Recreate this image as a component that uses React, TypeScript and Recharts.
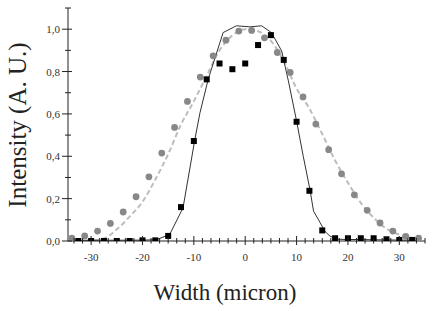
import { ComposedChart, Line, Scatter, XAxis, YAxis, Label } from "recharts"

// gray circles (measured) and their dashed fit
const circleX = [-33.75, -31.25, -28.75, -26.25, -23.75, -21.25, -18.75, -16.25, -13.75, -11.25, -8.75, -6.25, -3.75, -1.25,
    1.25, 3.75, 6.25, 8.75, 11.25, 13.75, 16.25, 18.75, 21.25, 23.75, 26.25, 28.75, 31.25, 33.75]
const circleY = [0.013, 0.024, 0.047, 0.083, 0.137, 0.209, 0.303, 0.415, 0.536, 0.659, 0.774, 0.874, 0.948, 0.991,
    0.994, 0.959, 0.89, 0.796, 0.68, 0.552, 0.431, 0.317, 0.218, 0.145, 0.085, 0.047, 0.022, 0.013]

const dashX = [-32.5, -30, -27.5, -25, -22.5, -20, -17.5, -15, -12.5, -10, -7.5, -5, -2.5, 0,
    2.5, 5, 7.5, 10, 12.5, 15, 17.5, 20, 22.5, 25, 27.5, 30, 32.5]
const dashY = [0.0, 0.002, 0.012, 0.055, 0.115, 0.185, 0.29, 0.41, 0.55, 0.66, 0.78, 0.9, 0.97, 1.0,
    0.99, 0.945, 0.85, 0.72, 0.625, 0.505, 0.38, 0.275, 0.18, 0.11, 0.058, 0.03, 0.014]

// black squares (measured) and their solid fit
const squareX = [-32.5, -30, -27.5, -25, -22.5, -20, -17.5, -15, -12.5, -10, -7.5, -5, -2.5, 0,
    2.5, 5, 7.5, 10, 12.5, 15, 17.5, 20, 22.5, 25, 27.5, 30, 32.5]
const squareY = [0.0, 0.0, 0.0, 0.0, 0.0, 0.003, 0.003, 0.024, 0.16, 0.472, 0.763, 0.838, 0.811, 0.838,
    0.925, 0.972, 0.855, 0.563, 0.237, 0.05, 0.013, 0.013, 0.013, 0.013, 0.008, 0.005, 0.005]

const solidX = [-34, -20, -17.3, -14.7, -12.1, -9.8, -8.8, -7.2, -4.3, -1.7, 0.9, 3.2, 5.1, 7.1, 8.4, 10, 11.3, 12.6, 13.3, 14.6, 15.5, 16.5, 18, 34]
const solidY = [0.003, 0.004, 0.006, 0.031, 0.157, 0.48, 0.606, 0.764, 0.984, 1.016, 1.011, 1.016, 0.984, 0.897, 0.756, 0.566, 0.4, 0.243, 0.141, 0.086, 0.046, 0.023, 0.008, 0.003]

const majorX = [-30, -20, -10, 0, 10, 20, 30]
const yTicks = [0, 0.1, 0.2, 0.3, 0.4, 0.5, 0.6, 0.7, 0.8, 0.9, 1.0, 1.1]

const zip = (xs: number[], ys: number[]) => xs.map((x, i) => ({ x, y: ys[i] }))
const circles = zip(circleX, circleY)
const dashFit = zip(dashX, dashY)
const squares = zip(squareX, squareY)
const solidFit = zip(solidX, solidY)

// minor ticks every 10/6 units
const xTicks: number[] = []
for (let k = -20; k <= 21; k++) xTicks.push(Math.round(k * 10 / 6 * 1000) / 1000)

const FONT = "'Liberation Serif', 'DejaVu Serif', serif"

const XTick = (props: any) => {
    const { x, y, payload } = props
    const v = payload.value
    const major = majorX.includes(v)
    return (
        <g>
            <line x1={x} x2={x} y1={y - (major ? 5 : 3)} y2={y + (major ? 4 : 2.5)} stroke="#222" />
            {major && (
                <text x={x} y={y + 20} textAnchor="middle" fontSize={11} fill="#333" fontFamily={FONT}>
                    {v}
                </text>
            )}
        </g>
    )
}

const YTick = (props: any) => {
    const { x, y, payload } = props
    const v = payload.value
    const major = Math.round(v * 10) % 2 === 0
    return (
        <g>
            <line x1={x - (major ? 6 : 3)} x2={x + (major ? 4 : 3)} y1={y} y2={y} stroke="#222" />
            {major && (
                <text x={x - 8} y={y + 4} textAnchor="end" fontSize={11} fill="#333" fontFamily={FONT}>
                    {v.toFixed(1).replace(".", ",")}
                </text>
            )}
        </g>
    )
}

const XTitle = () => (
    <text x={225} y={300} textAnchor="middle" fontSize={23} fill="#222" fontFamily={FONT}>
        Width (micron)
    </text>
)

const YTitle = () => (
    <text x={0} y={0} transform="translate(26,125) rotate(-90)" textAnchor="middle" fontSize={25} fill="#222" fontFamily={FONT}>
        Intensity (A. U.)
    </text>
)

const Square = (props: any) => <rect x={props.cx - 3} y={props.cy - 3} width={6} height={6} fill="#000" />
const Dot = (props: any) => <circle cx={props.cx} cy={props.cy} r={3.4} fill="#888" />

export default function App() {
    return (
        <div style={{ position: "absolute", left: 0, top: 0 }}>
            <ComposedChart width={436} height={311} margin={{ top: 8, right: 11, bottom: 0, left: 8 }}>
                <XAxis
                    type="number"
                    dataKey="x"
                    domain={[-34.5, 35]}
                    ticks={xTicks}
                    allowDataOverflow
                    interval={0}
                    height={70}
                    tickSize={0}
                    tickMargin={0}
                    tick={<XTick />}
                    stroke="#222"
                >
                    <Label content={<XTitle />} />
                </XAxis>
                <YAxis
                    type="number"
                    dataKey="y"
                    domain={[0, 1.1]}
                    ticks={yTicks}
                    allowDataOverflow
                    interval={0}
                    width={60}
                    tickSize={0}
                    tickMargin={0}
                    tick={<YTick />}
                    stroke="#222"
                >
                    <Label content={<YTitle />} />
                </YAxis>
                <Line data={dashFit} dataKey="y" type="monotone" stroke="#bdbdbd" strokeWidth={2} strokeDasharray="5 3" dot={false} isAnimationActive={false} />
                <Scatter data={circles} dataKey="y" shape={<Dot />} isAnimationActive={false} />
                <Line data={solidFit} dataKey="y" type="linear" stroke="#333" strokeWidth={1} dot={false} isAnimationActive={false} />
                <Scatter data={squares} dataKey="y" shape={<Square />} isAnimationActive={false} />
            </ComposedChart>
        </div>
    )
}
